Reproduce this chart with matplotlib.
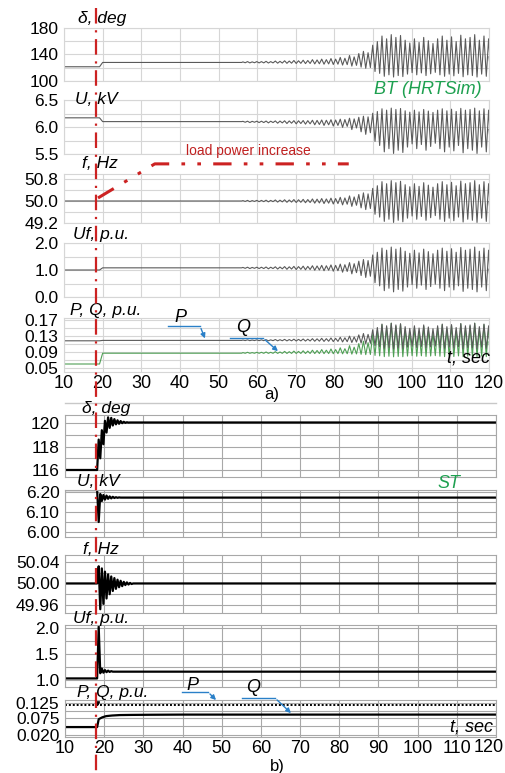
import numpy as np
import matplotlib
matplotlib.use('Agg')
import matplotlib.pyplot as plt
from matplotlib.lines import Line2D
from matplotlib.patches import FancyArrowPatch

plt.rcParams['font.family'] = ['Liberation Sans', 'DejaVu Sans']

W, H = 505, 773

# ---------------- data ----------------
t_ticks = [10, 20, 30, 40, 50, 60, 70, 80, 90, 100, 110, 120]

# a) BT (HRTSim): level before / after the load step
t_step_a = 19.2
delta_a_lvl = [121.5, 128.0]
u_a_lvl = [6.17, 6.10]
f_a_lvl = [50.0, 50.0]
uf_a_lvl = [1.0, 1.08]
p_a_lvl = [0.118, 0.119]
q_a_lvl = [0.060, 0.087]

# growing swing: relative envelope of each swing cycle (from t_osc0, period osc_T)
t_osc0 = 56.0
osc_T = 1.2
osc_env = [0.02, 0.03, 0.02, 0.03, 0.03, 0.04, 0.03, 0.05, 0.04, 0.06,
           0.05, 0.07, 0.06, 0.08, 0.07, 0.10, 0.09, 0.12, 0.10, 0.14,
           0.12, 0.18, 0.15, 0.25, 0.20, 0.32, 0.40, 0.35, 0.62, 0.75,
           0.95, 0.85, 1.00, 0.90, 0.97, 0.80, 0.70, 0.85, 0.72, 0.90,
           0.78, 0.68, 0.85, 0.95, 0.80, 0.92, 0.75, 0.98, 0.85, 0.90,
           1.00, 0.80, 0.95, 0.85]
# [swing amplitude, drift of the mean] at envelope 1
delta_a_osc = [32.0, 10.0]
u_a_osc = [0.42, -0.17]
f_a_osc = [0.76, -0.02]
uf_a_osc = [0.83, -0.06]
p_a_osc = [0.032, 0.011]
q_a_osc = [0.042, 0.033]

# load power increase marker (f axis units)
load_t = [18.8, 33.5, 83.7]
load_f = [50.11, 51.35, 51.35]

# b) ST: swing extremes after the step, every half_T_b seconds
t_step_b = 18.2
half_T_b = 0.4
delta_b_sw = [116.0, 118.6, 117.0, 119.4, 118.2, 120.2, 119.2, 120.5, 119.6, 120.45,
              119.8, 120.35, 119.9, 120.25, 119.95, 120.18, 120.0, 120.12, 120.03,
              120.08, 120.05, 120.06]
u_b_sw = [6.21, 6.05, 6.19, 6.155, 6.185, 6.162, 6.182, 6.166, 6.178, 6.168,
          6.176, 6.170, 6.174, 6.171, 6.173, 6.172]
f_b_sw = [50.0, 50.032, 49.952, 50.028, 49.962, 50.022, 49.972, 50.017, 49.98,
          50.013, 49.986, 50.01, 49.99, 50.007, 49.993, 50.005, 49.995, 50.003,
          49.997, 50.002, 49.998, 50.001, 49.999, 50.0]
uf_b_sw = [1.03, 2.03, 1.13, 1.22, 1.14, 1.19, 1.15, 1.18, 1.155, 1.17, 1.16]
p_b_lvl = 0.119
q_b_t = [10, 18.2, 18.6, 19.5, 20.5, 22, 24, 27, 32, 40, 120]
q_b = [0.046, 0.046, 0.072, 0.078, 0.082, 0.084, 0.0855, 0.086, 0.0865, 0.087, 0.087]


def fx(px):
    return px / W


def fy(py):
    return 1 - py / H


def add_ax(left, top, right, bottom):
    return fig.add_axes([fx(left), fy(bottom), (right - left) / W, (bottom - top) / H])


def style(ax, ylim, yticks, fmt, yminor, gcol, xlabels=False):
    ax.set_xlim(10, 120)
    ax.set_ylim(ylim)
    ax.set_xticks(t_ticks)
    ax.set_yticks(yticks)
    ax.set_yticklabels([fmt.format(v) for v in yticks])
    ax.set_yticks(yminor, minor=True)
    ax.grid(True, which='both', color=gcol, lw=0.8)
    ax.tick_params(which='both', length=0)
    ax.tick_params(axis='y', labelsize=12.5, pad=4)
    ax.tick_params(axis='x', labelsize=13, pad=2, labelbottom=xlabels)
    for s in ax.spines.values():
        s.set_color(gcol)
        s.set_linewidth(0.8)
    ax.set_axisbelow(True)
    ax.patch.set_alpha(0)


def trace_a(lvl, osc):
    t = [10, t_step_a, t_step_a + 0.8, t_osc0]
    y = [lvl[0], lvl[0], lvl[1], lvl[1]]
    for k, e in enumerate(osc_env):
        tk = t_osc0 + k * osc_T
        mid = lvl[1] + osc[1] * e
        t += [tk + osc_T / 4, tk + 3 * osc_T / 4]
        y += [mid + osc[0] * e, mid - osc[0] * e]
    t.append(120)
    y.append(lvl[1] + osc[1] * osc_env[-1])
    return t, y


def trace_b(sw):
    t = [10] + [t_step_b + half_T_b * k for k in range(len(sw))] + [120]
    y = [sw[0]] + sw + [sw[-1]]
    return t, y


fig = plt.figure(figsize=(W / 100, H / 100), dpi=100)

ga = '#d6d6d6'
gb = '#a8a8a8'
ca = '#5a5a5a'
cq = '#4f9f55'

# ---------------- a) ----------------
ax1 = add_ax(64, 28, 489, 81)
style(ax1, (100, 180), [100, 140, 180], '{:.0f}', [120, 160], ga)
ax1.plot(*trace_a(delta_a_lvl, delta_a_osc), color=ca, lw=0.8)

ax2 = add_ax(64, 100, 489, 154)
style(ax2, (5.5, 6.5), [5.5, 6.0, 6.5], '{:.1f}', [5.75, 6.25], ga)
ax2.plot(*trace_a(u_a_lvl, u_a_osc), color=ca, lw=0.8)

ax3 = add_ax(64, 173.5, 489, 223)
style(ax3, (49.2, 51.0), [49.2, 50.0, 50.8], '{:.1f}', [49.6, 50.4], ga)
ax3.plot(*trace_a(f_a_lvl, f_a_osc), color=ca, lw=0.8)
ax3.plot(load_t, load_f, color='#cc2222', lw=2.2, clip_on=False,
         ls=(0, (6, 4, 1.2, 4, 1.2, 4)), zorder=5)

ax4 = add_ax(64, 243, 489, 297)
style(ax4, (0, 2), [0.0, 1.0, 2.0], '{:.1f}', [0.5, 1.5], ga)
ax4.plot(*trace_a(uf_a_lvl, uf_a_osc), color=ca, lw=0.8)

ax5 = add_ax(64, 318, 489, 372)
style(ax5, (0.04, 0.175), [0.05, 0.09, 0.13, 0.17], '{:.2f}', [0.07, 0.11, 0.15], ga, True)
ax5.plot(*trace_a(q_a_lvl, q_a_osc), color=cq, lw=0.8)
ax5.plot(*trace_a(p_a_lvl, p_a_osc), color=ca, lw=0.8)

# ---------------- b) ----------------
bx1 = add_ax(65, 415, 496, 477)
style(bx1, (115.4, 120.7), [116, 118, 120], '{:.0f}', [117, 119], gb)
bx1.plot(*trace_b(delta_b_sw), color='black', lw=1.6)

bx2 = add_ax(65, 490, 496, 537)
style(bx2, (5.975, 6.21), [6.0, 6.1, 6.2], '{:.2f}', [6.05, 6.15], gb)
bx2.plot(*trace_b(u_b_sw), color='black', lw=1.6)

bx3 = add_ax(65, 555, 496, 613)
style(bx3, (49.945, 50.053), [49.96, 50.0, 50.04], '{:.2f}', [49.98, 50.02], gb)
bx3.plot(*trace_b(f_b_sw), color='black', lw=1.6)

bx4 = add_ax(65, 625, 496, 687)
style(bx4, (0.865, 2.058), [1.0, 1.5, 2.0], '{:.1f}', [1.25, 1.75], gb)
bx4.plot(*trace_b(uf_b_sw), color='black', lw=1.6)

bx5 = add_ax(65, 700, 496, 737)
style(bx5, (0.0134, 0.135), [0.020, 0.075, 0.125], '{:.3f}', [0.05, 0.1], gb, True)
bx5.plot([10, 120], [p_b_lvl, p_b_lvl], color='black', lw=1.4, ls=(0, (1, 1)))
bx5.plot(q_b_t, q_b, color='black', lw=1.6)
# last tick label sits against the right edge: draw it nudged left
bx5.set_xticklabels([str(v) for v in t_ticks[:-1]] + [''])
bx5.text(1.0, -0.06, str(t_ticks[-1]), transform=bx5.transAxes, ha='right', va='top',
         fontsize=13).set_x(1.0 + 8 / 431)

# top rule over b)
fig.add_artist(Line2D([fx(65), fx(496)], [fy(403), fy(403)], color='#c8c8c8', lw=1))

# red event line through both charts
fig.add_artist(Line2D([fx(96), fx(96)], [fy(8), fy(773)], color='#cc2222', lw=1.6,
                      ls=(0, (7, 3, 1, 3)), zorder=10))

# ---------------- texts ----------------
def ftext(x, y, s, **kw):
    kw.setdefault('fontsize', 12.5)
    kw.setdefault('va', 'center')
    fig.text(fx(x), fy(y), s, **kw)


for x, y, s in [(78, 18, 'δ, deg'), (75, 99, 'U, kV'), (82, 163, 'f, Hz'),
                (73, 235, 'Uf, p.u.'), (70, 310, 'P, Q, p.u.'),
                (82, 408, 'δ, deg'), (77, 482, 'U, kV'), (83, 550, 'f, Hz'),
                (73, 618, 'Uf, p.u.'), (77, 693, 'P, Q, p.u.')]:
    ftext(x, y, s, style='italic')

ftext(482, 90, 'BT (HRTSim)', style='italic', color='#1ea050', ha='right', fontsize=13)
ftext(449, 484, 'ST', style='italic', color='#1ea050', ha='center', fontsize=13)
ftext(248, 151, 'load power increase', color='#c02020', ha='center', fontsize=10)
ftext(490, 358, 't, sec', style='italic', ha='right', fontsize=13)
ftext(493, 727, 't, sec', style='italic', ha='right', fontsize=13)
ftext(272, 395, 'a)', ha='center', fontsize=12)
ftext(277, 767, 'b)', ha='center', fontsize=12)

# P / Q pointers
blue = '#2a80c8'
for tx, ty, lab, x0, x1, yl, xa, ya in [(180, 317, 'P', 168, 200, 326, 206, 341),
                                          (243, 327, 'Q', 230, 263, 338, 280, 353),
                                          (192, 685, 'P', 182, 208, 692, 218, 702),
                                          (253, 688, 'Q', 242, 275, 698, 293, 715)]:
    ftext(tx, ty, lab, style='italic', ha='center', fontsize=13)
    fig.add_artist(Line2D([fx(x0), fx(x1)], [fy(yl), fy(yl)], color=blue, lw=1))
    fig.add_artist(FancyArrowPatch((fx(x1), fy(yl)), (fx(xa), fy(ya)),
                                   transform=fig.transFigure, arrowstyle='-|>',
                                   mutation_scale=7, color=blue, lw=1))

fig.add_artist(FancyArrowPatch((fx(98), fy(700)), (fx(98), fy(709)),
                               transform=fig.transFigure, arrowstyle='-|>',
                               mutation_scale=5, color='black', lw=1))

fig.savefig('out.png', dpi=100)
